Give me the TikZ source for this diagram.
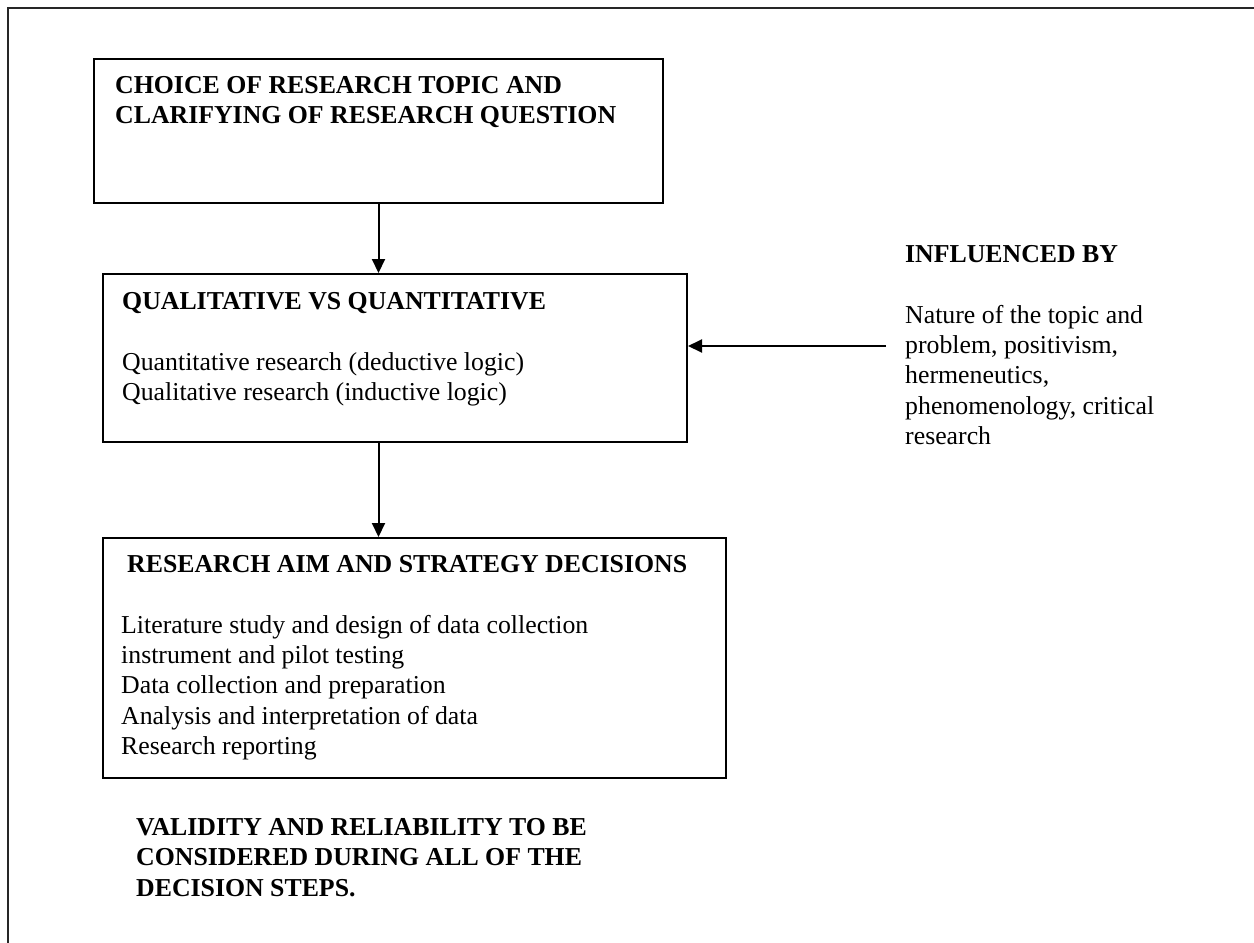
\documentclass[tikz,border=0pt]{standalone}
\usepackage{fontspec}
\setmainfont{Liberation Serif}
\usetikzlibrary{arrows.meta}
\begin{document}
\begin{tikzpicture}[x=1pt,y=-1pt,
  box/.style={draw, line width=2pt, anchor=north west, inner sep=0pt},
  % multi-line blocks are placed by the baseline of their last line
  txt/.style={anchor=base west, inner sep=0pt, align=left,
    font=\fontsize{25.8}{30.4}\selectfont},
  head/.style={txt, font=\fontsize{25.8}{30.4}\selectfont\bfseries},
  flow/.style={line width=2pt, -{Triangle[length=14pt,width=13pt]}}]
\useasboundingbox (0,0) rectangle (1254,943);
% page frame (top and left rule)
\draw[line width=2.2pt, black!85] (8,943) -- (8,8) -- (1254,8);

% boxes
\node[box, minimum width=569pt, minimum height=144pt] (b1) at (93,58) {};
\node[box, minimum width=584pt, minimum height=168pt] (b2) at (102,273) {};
\node[box, minimum width=623pt, minimum height=240pt] (b3) at (102,537) {};

% box texts
\node[head] (t1) at (115,123.4) {CHOICE OF RESEARCH TOPIC AND\\CLARIFYING OF RESEARCH QUESTION};
\node[head] (t2h) at (122,309) {QUALITATIVE VS QUANTITATIVE};
\node[txt] (t2b) at (122,400.4) {Quantitative research (deductive logic)\\Qualitative research (inductive logic)};
\node[head] (t3h) at (127,572) {RESEARCH AIM AND STRATEGY DECISIONS};
\node[txt] (t3b) at (121,754.6) {Literature study and design of data collection\\instrument and pilot testing\\Data collection and preparation\\Analysis and interpretation of data\\Research reporting};

% free texts
\node[head] (val) at (136,896) {VALIDITY AND RELIABILITY TO BE\\CONSIDERED DURING ALL OF THE\\DECISION STEPS.};
\node[head] (inf) at (905,262) {INFLUENCED BY};
\node[txt] (nat) at (905,444.6) {Nature of the topic and\\problem, positivism,\\hermeneutics,\\phenomenology, critical\\research};

% connectors
\coordinate (src) at (886,346);
\draw[flow] (b1.south) -- (b2.north -| b1.south);
\draw[flow] (b2.south -| b1.south) -- (b3.north -| b1.south);
\draw[flow] (src) -- (src -| b2.east);
\end{tikzpicture}
\end{document}
